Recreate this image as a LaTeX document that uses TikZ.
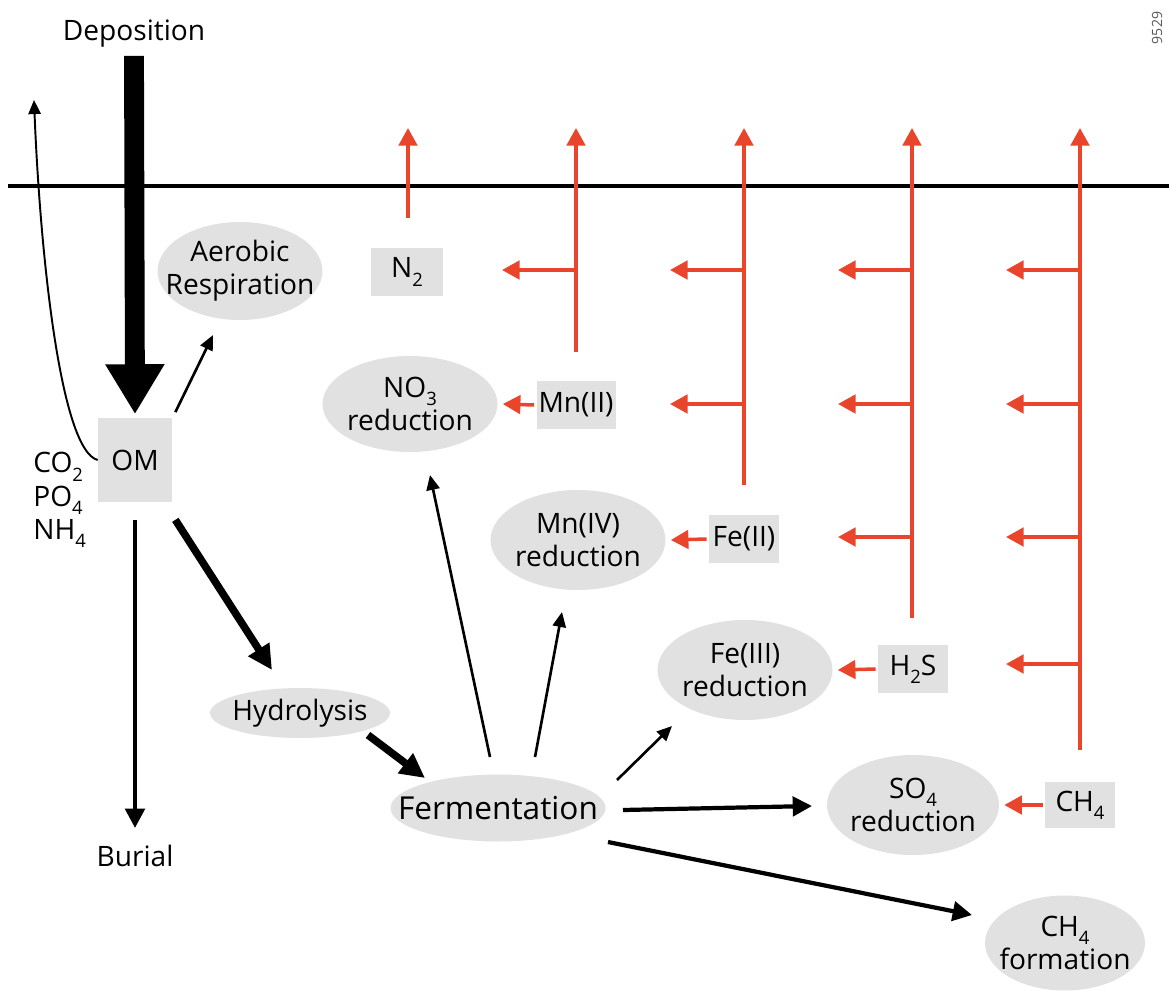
\documentclass[tikz,border=0pt]{standalone}
\usepackage{fontspec}
\setmainfont{Open Sans}
\usepackage{xcolor}
\usepackage{tikz}
\usetikzlibrary{arrows.meta, shapes.geometric}
\definecolor{sedgray}{HTML}{E1E1E1}
\definecolor{fluxred}{HTML}{E8452C}
\newcommand{\chsub}[1]{\raisebox{-0.55ex}{\fontsize{10.5}{11}\selectfont #1}}

\begin{document}
\begin{tikzpicture}[x=0.02cm, y=-0.02cm, font=\fontsize{16}{19}\selectfont,
    every label/.style={align=center},
    proc/.style={ellipse, fill=sedgray, inner sep=0pt},
    spec/.style={fill=sedgray, minimum height=0.96cm, inner sep=0pt},
    thinarr/.style={line width=1.5pt, -{Triangle[length=8.5pt, width=7.5pt]}},
    midarr/.style={line width=2.4pt, -{Triangle[length=11pt, width=11pt]}},
    fatarr/.style={line width=4.3pt, -{Triangle[length=14pt, width=13.5pt]}},
    redarr/.style={fluxred, line width=2pt, -{Triangle[length=10pt, width=10.5pt]}}]
    \useasboundingbox (0,0) rectangle (1169,990);
    \node[rotate=90, font=\fontsize{8}{9}\selectfont, text=black!65] (fignum) at (1157,28) {9529};

    \draw[line width=2.3pt] (8,186) -- (1169,186);

    \node (dep) at (134,34) {Deposition};
    \node[fill=sedgray, minimum width=1.48cm, minimum height=1.7cm, inner sep=0pt] (om) at (135,460) {OM};
    \node[align=left, anchor=north west, inner sep=0pt] (nut) at (33,452) {CO\chsub{2}\\PO\chsub{4}\\NH\chsub{4}};
    \node (bur) at (135,856) {Burial};

    \node[proc, minimum width=3.3cm, minimum height=1.96cm, label={center:{Aerobic\\Respiration}}] (aer) at (240,271) {};
    \node[proc, minimum width=3.6cm, minimum height=1cm, label={center:Hydrolysis}] (hyd) at (300,713) {};
    \node[proc, minimum width=4.3cm, minimum height=1.34cm, label={[font=\fontsize{18}{21}\selectfont]center:Fermentation}] (fer) at (498,808) {};
    \node[proc, minimum width=3.5cm, minimum height=1.92cm, label={center:{NO\chsub{3}\\reduction}}] (no3) at (410,404) {};
    \node[proc, minimum width=3.5cm, minimum height=2cm, label={center:{Mn(IV)\\reduction}}] (mn4) at (578,540) {};
    \node[proc, minimum width=3.5cm, minimum height=2cm, label={center:{Fe(III)\\reduction}}] (fe3) at (745,670) {};
    \node[proc, minimum width=3.44cm, minimum height=2cm, label={center:{SO\chsub{4}\\reduction}}] (so4) at (913,805) {};
    \node[proc, minimum width=3.2cm, minimum height=1.9cm, label={center:{CH\chsub{4}\\formation}}] (ch4f) at (1065,943) {};

    \node[spec, minimum width=1.44cm] (n2) at (407,272) {N\chsub{2}};
    \node[spec, minimum width=1.58cm] (mn2) at (576,405) {Mn(II)};
    \node[spec, minimum width=1.4cm] (fe2) at (744,539) {Fe(II)};
    \node[spec, minimum width=1.4cm] (h2s) at (913,669) {H\chsub{2}S};
    \node[spec, minimum width=1.4cm, minimum height=0.92cm] (ch4) at (1080,805) {CH\chsub{4}};

    \draw[line width=11.3pt, -{Triangle[length=28.4pt, width=31.7pt]}] ([shift={(0,2)}]dep.south) -- ([shift={(0,-3)}]om.north);
    \coordinate (vent) at (34,100);
    \draw[line width=1.1pt, -{Triangle[length=8pt, width=7pt]}] (om.west) .. controls (60,450) and (40,250) .. (vent);
    \draw[thinarr] ([shift={(3,-5)}]om.north east) -- ([shift={(-27,64)}]aer.center);
    \draw[midarr] ([shift={(0,17)}]om.south) -- ([shift={(0,-28)}]bur.center);
    \draw[fatarr] ([shift={(3,17)}]om.south east) -- ([shift={(-28,-43)}]hyd.center);
    \draw[fatarr] ([shift={(68,22)}]hyd.center) -- ([shift={(-73,-30)}]fer.center);
    \draw[thinarr] ([shift={(-8,-51)}]fer.center) -- ([shift={(20,71)}]no3.center);
    \draw[thinarr] ([shift={(37,-51)}]fer.center) -- ([shift={(-16,72)}]mn4.center);
    \draw[thinarr] ([shift={(119,-28)}]fer.center) -- ([shift={(-73,56)}]fe3.center);
    \draw[midarr] ([shift={(125,2)}]fer.center) -- ([shift={(-101,1)}]so4.center);
    \draw[midarr] ([shift={(110,34)}]fer.center) -- ([shift={(-93,-28)}]ch4f.center);

    \coordinate (n2top) at (408,128);
    \draw[redarr] ([shift={(1,-30)}]n2.north) -- (n2top);
    \draw[redarr] ([shift={(-2,0)}]mn2.west) -- ([shift={(5,0)}]no3.east);
    \draw[redarr] ([shift={(-2,0)}]fe2.west) -- ([shift={(5,0)}]mn4.east);
    \draw[redarr] ([shift={(-2,0)}]h2s.west) -- ([shift={(5,0)}]fe3.east);
    \draw[redarr] ([shift={(-2,0)}]ch4.west) -- ([shift={(5,0)}]so4.east);

    \foreach \col/\xx/\yy in {a/576/352, b/744/485, c/912/618, d/1080/750} {
      \coordinate (\col bot) at (\xx,\yy);
      \coordinate (\col top) at (\xx,128);
      \draw[redarr] (\col bot) -- (\col top);
      \foreach \yb [count=\k] in {270,404,537,664} {
        \ifnum\yb<\yy
          \coordinate (\col\k) at (\xx,\yb);
          \draw[redarr] (\col\k) -- ++(-74,0);
        \fi
      }
    }
  \end{tikzpicture}
\end{document}
